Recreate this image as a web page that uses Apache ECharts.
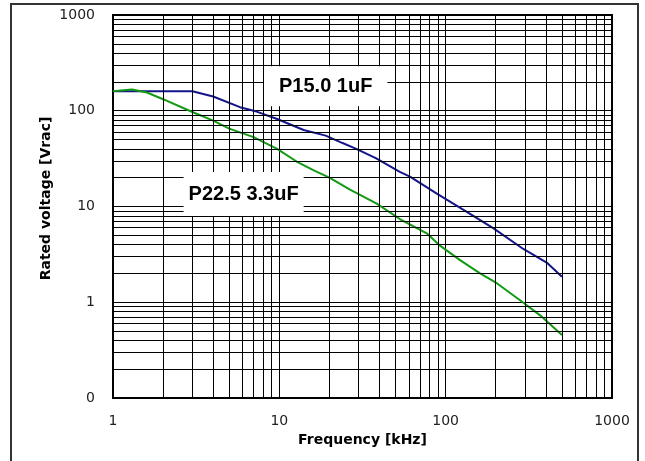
<!DOCTYPE html>
<html><head><meta charset="utf-8">
<script src="https://cdn.jsdelivr.net/npm/echarts@6/dist/echarts.min.js"></script>
<style>html,body{margin:0;padding:0;background:#fff}#c{width:645px;height:461px}</style>
</head><body><div id="c"></div>
<script>
const p15Freq = [1, 3, 4, 5.8, 7.3, 9.7, 14, 19, 24, 29, 38, 53, 61, 88, 134, 194, 293, 405, 500];
const p15Volt = [160, 160, 141, 109, 98, 82, 63, 55, 46, 40, 32, 23, 20.5, 13.7, 8.8, 5.9, 3.6, 2.6, 1.85];
const p22Freq = [1, 1.3, 1.6, 2, 3, 4, 5, 7, 9.7, 12.7, 16, 20, 26.6, 38.5, 53, 77, 92.5, 122, 161, 203, 280, 370, 500];
const p22Volt = [160, 167, 155, 132, 97, 79, 65, 53, 40, 29.5, 24, 20, 15, 10.7, 7.4, 5.25, 3.9, 2.75, 2.0, 1.58, 1.05, 0.73, 0.455];
const xDecades = [1, 10, 100];
const yDecades = [0.1, 1, 10, 100];
const yTickValues = [0.1, 1, 10, 100, 1000];
const yTickLabels = ['0', '1', '10', '100', '1000'];
const minorMultipliers = [2, 3, 4, 5, 6, 7, 8, 9];
const seriesNames = ['P15.0 1uF', 'P22.5 3.3uF'];
const labelAnchors = [[19, 180], [6.1, 13.5]];

const minorX = [], minorY = [];
xDecades.forEach(d => minorMultipliers.forEach(m => minorX.push(+(d * m).toPrecision(6))));
yDecades.forEach(d => minorMultipliers.forEach(m => minorY.push(+(d * m).toPrecision(6))));

const zip = (a, b) => a.map((v, i) => [v, b[i]]);
const chart = echarts.init(document.getElementById('c'), null, {renderer: 'canvas'});
const labelFont = {fontFamily: 'DejaVu Sans', fontSize: 14, color: '#222'};
const nameFont = {fontFamily: 'DejaVu Sans', fontSize: 14, fontWeight: 'bold', color: '#000'};

chart.setOption({
  animation: false,
  backgroundColor: '#fff',
  grid: {left: 113, right: 33, top: 15, bottom: 63, show: true, borderColor: '#000', borderWidth: 2, backgroundColor: 'transparent'},
  xAxis: {
    type: 'log', logBase: 10, min: 1, max: 1000,
    name: 'Frequency [kHz]', nameLocation: 'middle', nameGap: 35, nameTextStyle: nameFont,
    axisLine: {show: true, lineStyle: {color: '#000', width: 2}},
    axisTick: {show: false},
    axisLabel: Object.assign({margin: 16, formatter: v => String(Math.round(v))}, labelFont),
    splitLine: {show: true, lineStyle: {color: '#000', width: 1}}
  },
  yAxis: {
    type: 'log', logBase: 10, min: 0.1, max: 1000,
    name: 'Rated voltage [Vrac]', nameLocation: 'middle', nameGap: 60, nameRotate: 90,
    nameMoveOverlap: false,
    nameTextStyle: Object.assign({padding: [0, 0, 0, 16]}, nameFont),
    axisLine: {show: true, lineStyle: {color: '#000', width: 2}},
    axisTick: {show: false},
    axisLabel: Object.assign({margin: 18, formatter: v => {
      let best = 0, bd = Infinity;
      yTickValues.forEach((t, i) => { const d = Math.abs(Math.log10(v) - Math.log10(t)); if (d < bd) { bd = d; best = i; } });
      return yTickLabels[best];
    }}, labelFont),
    splitLine: {show: true, lineStyle: {color: '#000', width: 1}}
  },
  series: [
    {
      type: 'line', z: 1, silent: true, data: [[1, 0.1]], symbol: 'none', lineStyle: {opacity: 0},
      markLine: {
        silent: true, symbol: ['none', 'none'], label: {show: false},
        lineStyle: {color: '#000', width: 1, type: 'solid'},
        emphasis: {disabled: true},
        data: minorX.map(v => ({xAxis: v})).concat(minorY.map(v => ({yAxis: v})))
      }
    },
    {
      name: seriesNames[0], type: 'line', z: 3, data: zip(p15Freq, p15Volt), symbol: 'none',
      lineStyle: {color: '#14148c', width: 2}
    },
    {
      name: seriesNames[1], type: 'line', z: 3, data: zip(p22Freq, p22Volt), symbol: 'none',
      lineStyle: {color: '#119a11', width: 2}
    },
    {
      type: 'line', z: 6, silent: true, data: [[1, 0.1]], symbol: 'none', lineStyle: {opacity: 0},
      markPoint: {
        silent: true, symbol: 'rect', symbolSize: 1, itemStyle: {color: 'rgba(0,0,0,0)'},
        label: {show: true, position: 'inside', backgroundColor: '#fff', color: '#000',
          fontFamily: 'Liberation Sans', fontSize: 20, fontWeight: 'bold'},
        data: [
          {coord: labelAnchors[0], label: {formatter: seriesNames[0], padding: [11, 15, 9, 15]}},
          {coord: labelAnchors[1], label: {formatter: seriesNames[1], padding: [12, 5, 12, 5]}}
        ]
      }
    }
  ],
  graphic: [{
    type: 'rect', silent: true, z: 100,
    shape: {x: 11, y: 4, width: 627, height: 470},
    style: {fill: 'none', stroke: '#333', lineWidth: 2}
  }]
});
</script></body></html>
